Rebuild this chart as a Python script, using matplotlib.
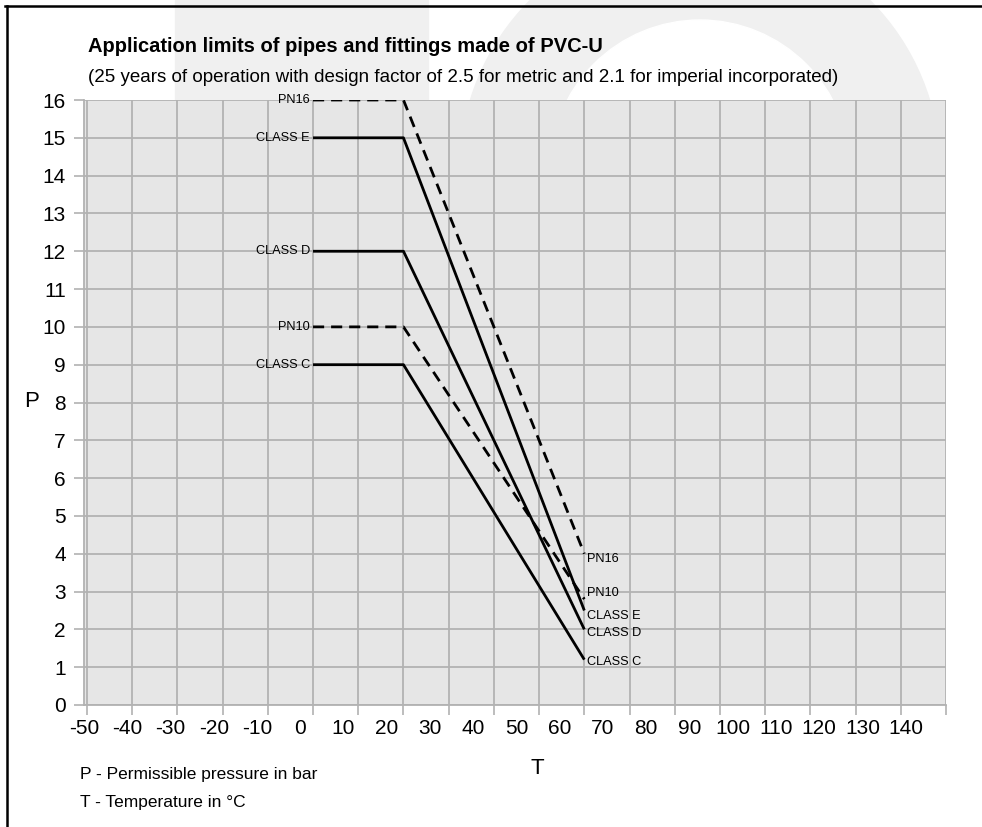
import numpy as np
import matplotlib.pyplot as plt
from matplotlib.patches import Rectangle, Circle
from matplotlib.lines import Line2D

plt.rcParams['font.family'] = ['Liberation Sans', 'DejaVu Sans']

# data (T in degC, P in bar)
temps = [0, 20, 60]
pn16 = [16, 16, 4.0]
class_e = [15, 15, 2.5]
class_d = [12, 12, 2.0]
pn10 = [10, 10, 2.8]
class_c = [9, 9, 1.2]

series = [
    ('PN16', pn16, '--', 3.85),
    ('CLASS E', class_e, '-', 2.35),
    ('CLASS D', class_d, '-', 1.9),
    ('PN10', pn10, '--', 2.95),
    ('CLASS C', class_c, '-', 1.15),
]

x_labels = [str(v) for v in range(-50, 150, 10)]
y_ticks = list(range(0, 17))

W, H = 982, 827
fig = plt.figure(figsize=(W / 100, H / 100), dpi=100)


def fx(px):
    return px / W


def fy(py):
    return 1 - py / H


# faint logo watermark behind everything (drawn in pixel space)
wm = '#f0f0f0'
fig.add_artist(Rectangle((175, H - 110), 253, 110, color=wm, zorder=0, transform=None))
fig.add_artist(Circle((700, H - 170), 240, color=wm, zorder=0, transform=None))
fig.add_artist(Circle((700, H - 170), 150, color='white', zorder=0, transform=None))

# frame lines at top and left
fig.add_artist(Line2D([fx(5), 1], [fy(6), fy(6)], color='black', lw=1.8))
fig.add_artist(Line2D([fx(7), fx(7)], [fy(6), 0], color='black', lw=1.8))

ax = fig.add_axes([fx(84), fy(705), fx(862), 605 / H])
ax.set_facecolor('#e6e6e6')
ax.set_xlim(-50, 140)
ax.set_ylim(0, 16)

grid_c = '#b2b2b2'
ax.set_xticks(np.arange(-50, 141, 10))
ax.set_yticks(y_ticks)
ax.set_xticklabels([])
ax.set_yticklabels([str(v) for v in y_ticks], fontsize=15)
# x labels in the original drift slightly left of the grid lines
step = 9.566
ax.set_xticks([-50.66 + step * i for i in range(len(x_labels))], minor=True)
ax.set_xticklabels(x_labels, minor=True, fontsize=15)
ax.tick_params(axis='x', which='minor', length=0, pad=10)
ax.tick_params(axis='x', which='major', length=7, color=grid_c, width=1.2)
ax.tick_params(axis='y', length=7, color=grid_c, width=1.2, pad=6)
ax.grid(True, which='major', color=grid_c, lw=1.3)
ax.set_axisbelow(True)
for s in ['top', 'right']:
    ax.spines[s].set_visible(False)
for s in ['left', 'bottom']:
    ax.spines[s].set_color(grid_c)
    ax.spines[s].set_linewidth(1.3)

for name, vals, ls, ylab in series:
    ax.plot(temps, vals, color='black', ls=ls, lw=2.0,
            dashes=(4, 2.5) if ls == '--' else (None, None), solid_capstyle='butt')
    ax.text(temps[0] - 0.7, vals[0], name, ha='right', va='center', fontsize=9.2)
    ax.text(temps[-1] + 0.6, ylab, name, ha='left', va='center', fontsize=9.2)

fig.text(fx(88), fy(46), 'Application limits of pipes and fittings made of PVC-U',
         fontsize=14.5, fontweight='bold', va='center', ha='left')
fig.text(fx(88), fy(78), '(25 years of operation with design factor of 2.5 for metric and 2.1 for imperial incorporated)',
         fontsize=13.5, va='center', ha='left')
fig.text(fx(32), fy(402), 'P', fontsize=16, va='center', ha='center')
fig.text(fx(537), fy(768), 'T', fontsize=16, va='center', ha='center')
fig.text(fx(80), fy(775), 'P - Permissible pressure in bar', fontsize=12.5, va='center', ha='left')
fig.text(fx(80), fy(802), 'T - Temperature in °C', fontsize=12.5, va='center', ha='left')

fig.savefig('out.png', dpi=100)
